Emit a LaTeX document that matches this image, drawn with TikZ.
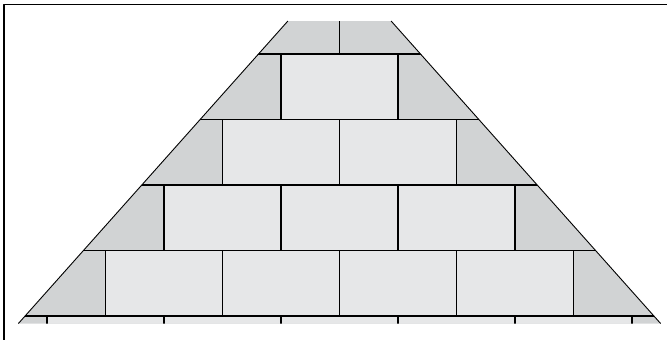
\documentclass[tikz,border=0pt]{standalone}
\usepackage{tikz}
\usetikzlibrary{calc}
\definecolor{mattone}{HTML}{E6E7E8}
\definecolor{malta}{HTML}{D1D3D4}

\begin{document}
\begin{tikzpicture}[x=1pt, y=-1pt, line join=round]
  \useasboundingbox (0,0) rectangle (667,340);

  % Cornice
  \draw[line width=1.3pt] (4,340) -- (4,4.5) -- (667,4.5);

  % Vertici del trapezio
  \coordinate (TL) at (287.9,21);
  \coordinate (TR) at (391.1,21);
  \coordinate (BR) at (660.6,323.5);
  \coordinate (BL) at (18.4,323.5);

  \begin{scope}
    \clip (TL) -- (TR) -- (BR) -- (BL) -- cycle;
    \fill[malta] (0,0) rectangle (667,340);
    % Mattoni interi
    \foreach \r in {1,...,5} {
      \fill[mattone] (339.5-58.5*\r, -11.5+65.5*\r) rectangle (339.5+58.5*\r, 54+65.5*\r);
    }
    % Giunti orizzontali
    \foreach \r in {0,...,4}
      \draw[line width=1.3pt] (0,54+65.5*\r) -- (667,54+65.5*\r);
    % Giunti verticali
    \foreach \r in {0,...,5} {
      \foreach \k in {0,...,\r}
        \draw[line width=1.3pt] (339.5+117*\k-58.5*\r, -11.5+65.5*\r) -- ++(0,65.5);
    }
  \end{scope}

  % Lati obliqui
  \draw[line width=0.9pt] (TL) -- (BL);
  \draw[line width=0.9pt] (TR) -- (BR);
\end{tikzpicture}
\end{document}
